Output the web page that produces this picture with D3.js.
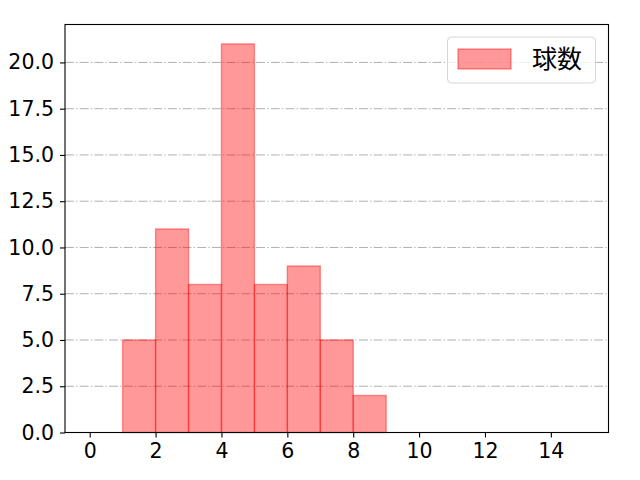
<!DOCTYPE html>
<html>
<head>
<meta charset="utf-8">
<script src="https://cdn.jsdelivr.net/npm/d3@7"></script>
<style>
  body { margin: 0; background: #fff; }
  svg { display: block; }
  text { font-family: "Noto Sans CJK JP", "DejaVu Sans", sans-serif; }
</style>
</head>
<body>
<svg id="chart"></svg>
<script>
// histogram bins (edges 0..15, width 1) and counts
const binStarts = [0, 1, 2, 3, 4, 5, 6, 7, 8, 9, 10, 11, 12, 13, 14];
const counts = [0, 5, 11, 8, 21, 8, 9, 5, 2, 0, 0, 0, 0, 0, 0];
const binWidth = 1;
const xTicks = [0, 2, 4, 6, 8, 10, 12, 14];
const yTicks = [0, 2.5, 5, 7.5, 10, 12.5, 15, 17.5, 20];
const seriesName = "球数";

const W = 640, H = 480;
const margin = {top: 24.5, right: 31.5, bottom: 47.5, left: 65};

const svg = d3.select("#chart").attr("width", W).attr("height", H);

const x = d3.scaleLinear()
  .domain([-0.75, 15.75])
  .range([margin.left, W - margin.right]);

const y = d3.scaleLinear()
  .domain([0, 22.05])
  .range([H - margin.bottom, margin.top]);

// grid (below bars)
svg.append("g")
  .selectAll("line")
  .data(yTicks)
  .enter()
  .append("line")
  .attr("x1", margin.left)
  .attr("x2", W - margin.right)
  .attr("y1", d => y(d))
  .attr("y2", d => y(d))
  .attr("stroke", "#b0b0b0")
  .attr("stroke-width", 1)
  .attr("stroke-dasharray", "8.9,2.2,1.4,2.2");

// bars
svg.append("g")
  .selectAll("rect")
  .data(binStarts)
  .enter()
  .append("rect")
  .attr("x", (d) => x(d))
  .attr("y", (d, i) => y(counts[i]))
  .attr("width", x(binWidth) - x(0))
  .attr("height", (d, i) => y(0) - y(counts[i]))
  .attr("fill", "rgba(255,0,0,0.4)")
  .attr("stroke", "rgba(255,0,0,0.4)")
  .attr("stroke-width", 1.4);

// axes
const xAxis = svg.append("g")
  .attr("transform", `translate(0, ${H - margin.bottom})`)
  .call(d3.axisBottom(x).tickValues(xTicks).tickSize(5).tickPadding(6).tickFormat(d3.format("d")));

const yAxis = svg.append("g")
  .attr("transform", `translate(${margin.left}, 0)`)
  .call(d3.axisLeft(y).tickValues(yTicks).tickSize(5).tickPadding(6).tickFormat(d3.format(".1f")));

[xAxis, yAxis].forEach(g => {
  g.select(".domain").remove();
  g.selectAll(".tick line").attr("stroke", "#000").attr("stroke-width", 1.1);
  g.selectAll(".tick text")
    .attr("fill", "#000")
    .attr("font-size", 20.5)
    .style("font-family", "\"DejaVu Sans\", sans-serif");
});

// frame
svg.append("rect")
  .attr("x", margin.left)
  .attr("y", margin.top)
  .attr("width", W - margin.left - margin.right)
  .attr("height", H - margin.top - margin.bottom)
  .attr("fill", "none")
  .attr("stroke", "#000")
  .attr("stroke-width", 1.1);

// legend
const legend = svg.append("g");
legend.append("rect")
  .attr("x", 447.5)
  .attr("y", 37)
  .attr("width", 148)
  .attr("height", 46)
  .attr("rx", 4)
  .attr("fill", "rgba(255,255,255,0.8)")
  .attr("stroke", "#d6d6d6")
  .attr("stroke-width", 1);
legend.append("rect")
  .attr("x", 458)
  .attr("y", 49)
  .attr("width", 53)
  .attr("height", 20)
  .attr("fill", "rgba(255,0,0,0.4)")
  .attr("stroke", "rgba(255,0,0,0.4)")
  .attr("stroke-width", 1.4);
legend.append("text")
  .attr("x", 532)
  .attr("y", 59)
  .attr("dy", "0.36em")
  .attr("font-size", 25)
  .attr("fill", "#000")
  .text(seriesName);
</script>
</body>
</html>
